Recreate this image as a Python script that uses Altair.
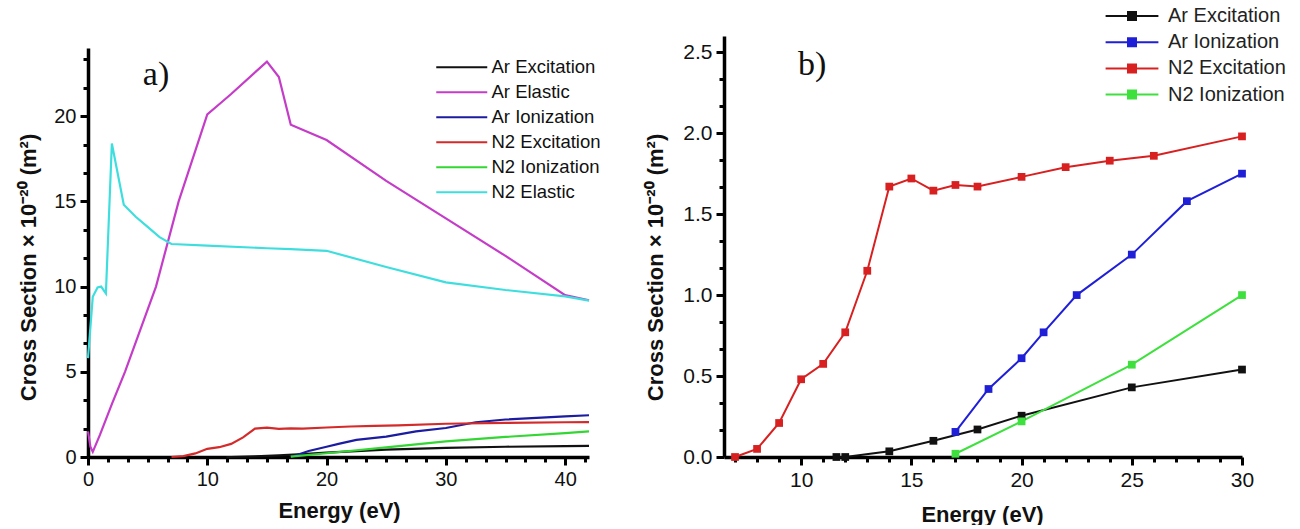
import altair as alt
import pandas as pd

# ---------------- panel a): cross sections up to 42 eV ----------------
names_a = ["Ar Excitation", "Ar Elastic", "Ar Ionization",
           "N2 Excitation", "N2 Ionization", "N2 Elastic"]
colors_a = ["#111111", "#c43cc8", "#1c1ca0", "#d42a2a", "#33d633", "#3fdede"]

ar_exc_a_e = [11.6, 12.0, 14.0, 16.0, 18.0, 20.0, 25.0, 30.0, 35.0, 40.0, 42.0]
ar_exc_a_s = [0.0, 0.0, 0.035, 0.10, 0.17, 0.255, 0.43, 0.54, 0.60, 0.64, 0.65]

ar_el_a_e = [0.0, 0.2, 0.4, 1.0, 2.0, 3.1, 5.7, 7.6, 10.0, 11.0, 12.0, 15.0,
             16.0, 17.0, 20.0, 25.0, 30.0, 35.0, 40.0, 42.0]
ar_el_a_s = [1.5, 0.6, 0.3, 1.3, 3.1, 5.0, 10.0, 15.0, 20.1, 20.7, 21.3, 23.2,
             22.3, 19.5, 18.6, 16.2, 14.0, 11.8, 9.5, 9.2]

ar_ion_a_e = [17.0, 18.5, 20.0, 21.0, 22.5, 25.0, 27.5, 30.0, 32.5, 35.0, 40.0, 42.0]
ar_ion_a_s = [0.0, 0.35, 0.60, 0.77, 1.0, 1.2, 1.5, 1.7, 2.04, 2.2, 2.38, 2.45]

n2_exc_a_e = [7, 8, 9, 10, 11, 12, 13, 14, 15, 16, 17, 18, 20, 22, 24, 26, 30, 35, 40, 42]
n2_exc_a_s = [0.0, 0.05, 0.21, 0.48, 0.575, 0.77, 1.15, 1.67, 1.72, 1.645, 1.68,
              1.67, 1.73, 1.79, 1.83, 1.86, 1.95, 2.0, 2.04, 2.05]

n2_ion_a_e = [17, 20, 25, 30, 35, 40, 42]
n2_ion_a_s = [0.02, 0.22, 0.57, 0.92, 1.18, 1.40, 1.50]

n2_el_a_e = [0.0, 0.4, 0.8, 1.1, 1.5, 2.0, 3.0, 4.0, 5.0, 6.0, 7.0, 10.0, 15.0,
             17.0, 20.0, 25.0, 30.0, 35.0, 40.0, 42.0]
n2_el_a_s = [5.8, 9.4, 9.95, 10.0, 9.6, 18.4, 14.8, 14.1, 13.5, 12.9, 12.5, 12.4,
             12.25, 12.2, 12.1, 11.15, 10.25, 9.8, 9.43, 9.18]

# ---------------- panel b): inelastic cross sections, 7-30 eV ----------------
names_b = ["Ar Excitation", "Ar Ionization", "N2 Excitation", "N2 Ionization"]
colors_b = ["#111111", "#1f1fd8", "#d82020", "#3ee03e"]

ar_exc_b_e = [11.6, 12.0, 14.0, 16.0, 18.0, 20.0, 25.0, 30.0]
ar_exc_b_s = [0.0, 0.0, 0.035, 0.10, 0.17, 0.255, 0.43, 0.54]

ar_ion_b_e = [17.0, 18.5, 20.0, 21.0, 22.5, 25.0, 27.5, 30.0]
ar_ion_b_s = [0.155, 0.42, 0.61, 0.77, 1.0, 1.25, 1.58, 1.75]

n2_exc_b_e = [7, 8, 9, 10, 11, 12, 13, 14, 15, 16, 17, 18, 20, 22, 24, 26, 30]
n2_exc_b_s = [0.0, 0.05, 0.21, 0.48, 0.575, 0.77, 1.15, 1.67, 1.72, 1.645, 1.68,
              1.67, 1.73, 1.79, 1.83, 1.86, 1.98]

n2_ion_b_e = [17, 20, 25, 30]
n2_ion_b_s = [0.02, 0.22, 0.57, 1.0]

# axis ticks
major_x_a = [0, 10, 20, 30, 40]
major_y_a = [0, 5, 10, 15, 20]
major_x_b = [10, 15, 20, 25, 30]
major_y_b = [0.0, 0.5, 1.0, 1.5, 2.0, 2.5]
minor_x_a = [i * 10 / 6 for i in range(26) if i % 6]
minor_y_a = [i * 5 / 3 for i in range(15) if i % 3]
minor_x_b = [v for v in range(7, 30) if v % 5]
minor_y_b = [i / 6 for i in range(16) if i % 3]

Y_TITLE = "Cross Section × 10⁻²⁰ (m²)"
SANS = "Liberation Sans, Arial, sans-serif"


def frame(names, energies, sigmas):
    parts = [pd.DataFrame({"energy": e, "sigma": s, "series": n})
             for n, e, s in zip(names, energies, sigmas)]
    return pd.concat(parts, ignore_index=True)


df_a = frame(names_a,
             [ar_exc_a_e, ar_el_a_e, ar_ion_a_e, n2_exc_a_e, n2_ion_a_e, n2_el_a_e],
             [ar_exc_a_s, ar_el_a_s, ar_ion_a_s, n2_exc_a_s, n2_ion_a_s, n2_el_a_s])
df_b = frame(names_b,
             [ar_exc_b_e, ar_ion_b_e, n2_exc_b_e, n2_ion_b_e],
             [ar_exc_b_s, ar_ion_b_s, n2_exc_b_s, n2_ion_b_s])

title_kw = dict(titleFont=SANS, titleFontSize=22, titleFontWeight="bold",
                titleColor="#111", titleAlign="center", titleBaseline="middle")


def main_axes(xs, ys, xvals, yvals, lab_size, xfmt, yfmt, xtitle_pos, ytitle_pos):
    x = alt.X("energy:Q", scale=xs, axis=alt.Axis(
        values=xvals, format=xfmt, title="Energy (eV)", tickSize=8,
        labelFont=SANS, labelFontSize=lab_size, labelPadding=4, labelFlush=False,
        titleX=xtitle_pos[0], titleY=xtitle_pos[1], **title_kw))
    y = alt.Y("sigma:Q", scale=ys, axis=alt.Axis(
        values=yvals, format=yfmt, title=Y_TITLE, tickSize=8,
        labelFont=SANS, labelFontSize=lab_size, labelPadding=4, labelFlush=False,
        titleAngle=270, titleX=ytitle_pos[0], titleY=ytitle_pos[1], **title_kw))
    return x, y


def minor_axes(xs, ys, xvals, yvals):
    x = alt.X("energy:Q", scale=xs, axis=alt.Axis(
        orient="bottom", values=xvals, labels=False, domain=False,
        tickSize=5, title=None))
    y = alt.Y("sigma:Q", scale=ys, axis=alt.Axis(
        orient="left", values=yvals, labels=False, domain=False,
        tickSize=5, title=None))
    return x, y


def bare(xs, ys):
    return (alt.X("energy:Q", scale=xs, axis=None),
            alt.Y("sigma:Q", scale=ys, axis=None))


# ---------------- panel a) chart ----------------
xs_a = alt.Scale(domain=[0, 42], nice=False, zero=False)
ys_a = alt.Scale(domain=[0, 24], nice=False, zero=False)
xa, ya = main_axes(xs_a, ys_a, major_x_a, major_y_a, 20, "d", "d",
                   (251, 53), (-60, 219))

legend_a = alt.Legend(title=None, orient="none", legendX=385, legendY=22,
                      symbolType="M-23,0H2.5", symbolSize=16, symbolStrokeWidth=2,
                      labelFont=SANS, labelFontSize=18.5, labelColor="#111",
                      labelOffset=0, rowPadding=6)

lines_a = alt.Chart(df_a).mark_line(strokeWidth=2.2).encode(
    x=xa, y=ya,
    color=alt.Color("series:N", scale=alt.Scale(domain=names_a, range=colors_a),
                    legend=legend_a, sort=names_a))
mx_a, my_a = minor_axes(xs_a, ys_a, minor_x_a, minor_y_a)
minor_a = alt.Chart(df_a).mark_point(opacity=0).encode(x=mx_a, y=my_a)
bx_a, by_a = bare(xs_a, ys_a)
tag_a = alt.Chart(pd.DataFrame({"energy": [5.7], "sigma": [22.4], "tag": ["a)"]})).mark_text(
    font="Liberation Serif", fontSize=34, color="#111").encode(x=bx_a, y=by_a, text="tag:N")

panel_a = alt.layer(lines_a, minor_a, tag_a).resolve_axis(
    x="independent", y="independent").properties(width=501, height=409)

# empty strip that lowers panel a) relative to panel b)
strip = alt.Chart(pd.DataFrame({"v": [0.0]})).mark_point(opacity=0, size=0).encode(
    x=alt.X("v:Q", axis=None), y=alt.Y("v:Q", axis=None)).properties(width=501, height=1)

column_a = alt.vconcat(strip, panel_a, spacing=11)

# ---------------- panel b) chart ----------------
xs_b = alt.Scale(domain=[6.5, 30], nice=False, zero=False)
ys_b = alt.Scale(domain=[0, 2.6], nice=False, zero=False)
xb, yb = main_axes(xs_b, ys_b, major_x_b, major_y_b, 21, "d", ".1f",
                   (258, 57), (-69, 231))

legend_b = alt.Legend(title=None, orient="none", legendX=398, legendY=-30,
                      symbolType="M-6.6,0H6.6M-1,-1H1V1H-1Z", symbolSize=64,
                      symbolStrokeWidth=2, labelFont=SANS, labelFontSize=20,
                      labelColor="#222", labelOffset=26, rowPadding=6.2)

stroke_b = alt.Stroke("series:N", scale=alt.Scale(domain=names_b, range=colors_b),
                      legend=legend_b, sort=names_b)
fill_b = alt.Fill("series:N", scale=alt.Scale(domain=names_b, range=colors_b),
                  legend=legend_b, sort=names_b)

lines_b = alt.Chart(df_b).mark_line(strokeWidth=2).encode(x=xb, y=yb, stroke=stroke_b)
bx_b, by_b = bare(xs_b, ys_b)
squares_b = alt.Chart(df_b).mark_square(size=60, filled=True, opacity=1).encode(
    x=bx_b, y=by_b, fill=fill_b)
mx_b, my_b = minor_axes(xs_b, ys_b, minor_x_b, minor_y_b)
minor_b = alt.Chart(df_b).mark_point(opacity=0).encode(x=mx_b, y=my_b)
tag_b = alt.Chart(pd.DataFrame({"energy": [10.5], "sigma": [2.42], "tag": ["b)"]})).mark_text(
    font="Liberation Serif", fontSize=34, color="#111").encode(x=bx_b, y=by_b, text="tag:N")

panel_b = alt.layer(lines_b, squares_b, minor_b, tag_b).resolve_axis(
    x="independent", y="independent").properties(width=518, height=421)

chart = alt.hconcat(column_a, panel_b, spacing=43).resolve_scale(
    color="independent", stroke="independent", fill="independent"
).properties(
    padding={"left": 17, "top": 6, "right": 0, "bottom": 0},
    background="white",
).configure_view(stroke=None).configure_axis(
    grid=False, domainColor="black", domainWidth=3.5, tickColor="black",
    tickWidth=3, labelColor="#111")

chart.save("out.html", embed_options={"renderer": "svg", "actions": False})
